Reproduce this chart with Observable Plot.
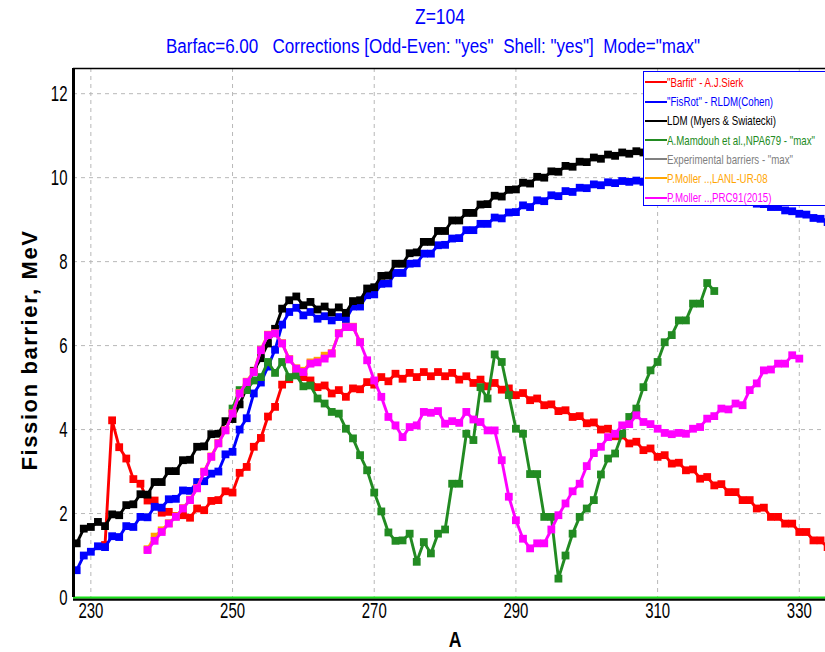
<!DOCTYPE html>
<html>
<head>
<meta charset="utf-8">
<script src="https://cdn.jsdelivr.net/npm/d3@7"></script>
<script src="https://cdn.jsdelivr.net/npm/@observablehq/plot@0.6"></script>
<style>
  body { margin: 0; background: #fff; }
  #wrap { position: relative; width: 825px; height: 652px; overflow: hidden; background: #fff;
          font-family: "Liberation Sans", Arial, sans-serif; }
  #chart { position: absolute; left: 0; top: 0; }
  .ttl { position: absolute; text-align: center; color: #0000ff; white-space: pre; transform: translateX(-50%); }
  .ttl span { display: inline-block; transform-origin: 50% 50%; }
  #t1 { left: 440px; top: 4px; font-size: 22px; }
  #t2 { left: 433px; top: 35px; font-size: 20px; }
  #ylab { position: absolute; left: 30px; top: 350px; transform: translate(-50%, -50%) rotate(-90deg);
          font-weight: bold; font-size: 22px; white-space: nowrap; letter-spacing: 1.6px; }
  #xlab { position: absolute; left: 455px; top: 640px; transform: translate(-50%, -50%) scaleX(0.8);
          font-weight: bold; font-size: 22px; }
  #legend { position: absolute; left: 643px; top: 71px; width: 200px; height: 135px; background: #fff;
            border: 1.5px solid #0000ff; box-sizing: border-box; padding-top: 1px; font-size: 13.5px; }
  .row { height: 19.2px; line-height: 19.2px; white-space: nowrap; }
  .sw { display: inline-block; width: 22px; height: 2px; vertical-align: middle; margin: 0 0 0 1px; position: relative; top: -1px; }
  .lt { display: inline-block; transform-origin: 0 50%; }
</style>
</head>
<body>
<div id="wrap">
  <div id="chart"></div>
  <div class="ttl" id="t1"><span></span></div>
  <div class="ttl" id="t2"><span></span></div>
  <div id="ylab"></div>
  <div id="xlab"></div>
  <div id="legend"></div>
</div>
<script>
// Mass-number axis ticks and barrier-height ticks
const xTicks = [230, 250, 270, 290, 310, 330];
const yTicks = [0, 2, 4, 6, 8, 10, 12];

// "Barfit" - A.J.Sierk, A = 232..334
const sierkStart = 232;
const sierkBarrier = [
  1.25, 4.22, 3.58, 3.31, 2.82, 2.71, 2.31, 2.31, 2.02, 2.04,
  1.94, 1.96, 1.90, 2.12, 2.08, 2.30, 2.32, 2.53, 2.50, 2.97,
  3.11, 3.59, 3.80, 4.31, 4.54, 5.07, 5.20, 5.41, 5.25, 5.17,
  5.01, 5.05, 4.86, 4.94, 4.78, 4.98, 4.96, 5.13, 5.07, 5.25,
  5.15, 5.33, 5.21, 5.35, 5.25, 5.37, 5.27, 5.37, 5.27, 5.35,
  5.19, 5.27, 5.11, 5.19, 5.03, 5.11, 4.95, 4.98, 4.82, 4.87,
  4.70, 4.74, 4.58, 4.60, 4.44, 4.46, 4.30, 4.32, 4.15, 4.17,
  4.00, 4.02, 3.84, 3.86, 3.67, 3.71, 3.51, 3.55, 3.35, 3.39,
  3.19, 3.21, 3.03, 3.05, 2.83, 2.87, 2.67, 2.70, 2.51, 2.51,
  2.32, 2.32, 2.12, 2.14, 1.92, 1.92, 1.76, 1.76, 1.56, 1.56,
  1.36, 1.36, 1.20
];

// "FisRot" - RLDM (Cohen), A = 228..334
const cohenStart = 228;
const cohenBarrier = [
  0.65, 1.00, 1.09, 1.22, 1.20, 1.46, 1.44, 1.70, 1.68, 1.92,
  1.91, 2.16, 2.14, 2.34, 2.35, 2.55, 2.54, 2.75, 2.77, 2.95,
  3.00, 3.41, 3.47, 4.00, 4.27, 4.86, 5.12, 5.50, 5.90, 6.50,
  6.80, 6.90, 6.72, 6.80, 6.64, 6.70, 6.60, 6.68, 6.62, 6.93,
  6.93, 7.20, 7.22, 7.47, 7.48, 7.73, 7.73, 7.95, 7.96, 8.19,
  8.19, 8.39, 8.40, 8.55, 8.56, 8.75, 8.75, 8.90, 8.90, 9.05,
  9.03, 9.17, 9.18, 9.34, 9.30, 9.46, 9.44, 9.58, 9.56, 9.68,
  9.66, 9.76, 9.75, 9.84, 9.82, 9.89, 9.87, 9.92, 9.90, 9.93,
  9.90, 9.90, 9.86, 9.85, 9.80, 9.78, 9.74, 9.72, 9.66, 9.64,
  9.60, 9.58, 9.52, 9.50, 9.46, 9.44, 9.38, 9.37, 9.30, 9.30,
  9.22, 9.20, 9.14, 9.12, 9.04, 9.02, 8.94
];

// LDM (Myers & Swiatecki), A = 228..310
const ldmStart = 228;
const ldmBarrier = [
  1.29, 1.64, 1.68, 1.80, 1.70, 1.98, 1.96, 2.20, 2.22, 2.46,
  2.45, 2.75, 2.75, 3.01, 3.01, 3.27, 3.28, 3.59, 3.60, 3.89,
  3.90, 4.20, 4.25, 4.60, 5.00, 5.40, 5.70, 6.05, 6.40, 6.88,
  7.08, 7.17, 6.96, 7.04, 6.86, 6.93, 6.79, 6.91, 6.78, 7.06,
  7.08, 7.36, 7.39, 7.66, 7.67, 7.95, 7.95, 8.20, 8.22, 8.47,
  8.47, 8.73, 8.73, 8.98, 8.98, 9.16, 9.16, 9.36, 9.37, 9.57,
  9.55, 9.71, 9.72, 9.88, 9.86, 10.02, 10.00, 10.15, 10.14, 10.28,
  10.26, 10.38, 10.37, 10.48, 10.45, 10.55, 10.52, 10.60, 10.57, 10.63,
  10.60, 10.64, 10.60
];

// A.Mamdouh et al., NPA679 - "max", A = 250..318
const mamdouhStart = 250;
const mamdouhBarrier = [
  4.50, 4.94, 4.94, 5.17, 5.25, 5.61, 5.35, 5.61, 5.25, 5.29,
  5.03, 5.05, 4.74, 4.62, 4.42, 4.38, 4.02, 3.79, 3.39, 3.03,
  2.50, 2.05, 1.55, 1.35, 1.36, 1.52, 0.85, 1.32, 1.05, 1.52,
  1.62, 2.71, 2.71, 3.90, 3.75, 5.01, 4.74, 5.79, 5.61, 4.82,
  4.02, 3.90, 2.94, 2.94, 1.92, 1.92, 0.45, 1.00, 1.52, 1.92,
  2.12, 2.32, 2.93, 3.31, 3.43, 3.90, 4.30, 4.50, 5.01, 5.41,
  5.61, 6.08, 6.25, 6.60, 6.60, 7.00, 7.00, 7.49, 7.30
];

// P.Moller .., LANL-UR-08, A = 238..268
const lanlStart = 238;
const lanlBarrier = [
  1.15, 1.45, 1.60, 1.77, 1.93, 2.13, 2.33, 2.61, 3.00, 3.36,
  3.68, 3.99, 4.39, 4.87, 5.14, 5.38, 5.90, 6.26, 6.30, 6.06,
  5.68, 5.46, 5.40, 5.60, 5.64, 5.76, 5.82, 6.30, 6.45, 6.45,
  6.09
];

// P.Moller .., PRC91(2015), A = 238..330
const prcStart = 238;
const prcBarrier = [
  1.13, 1.35, 1.56, 1.76, 1.92, 2.12, 2.32, 2.60, 2.99, 3.35,
  3.67, 3.98, 4.38, 4.86, 5.13, 5.37, 5.89, 6.25, 6.29, 6.05,
  5.67, 5.45, 5.37, 5.57, 5.60, 5.69, 5.81, 6.29, 6.44, 6.44,
  6.08, 5.65, 5.17, 4.78, 4.30, 4.10, 3.82, 4.06, 4.10, 4.42,
  4.40, 4.44, 4.14, 4.20, 4.16, 4.42, 4.24, 4.18, 3.98, 3.98,
  3.27, 2.40, 1.84, 1.40, 1.17, 1.29, 1.29, 1.62, 1.96, 2.24,
  2.53, 2.71, 3.13, 3.44, 3.59, 3.82, 3.90, 4.10, 4.13, 4.34,
  4.18, 4.13, 4.02, 3.92, 3.89, 3.92, 3.90, 4.02, 4.06, 4.26,
  4.32, 4.50, 4.48, 4.62, 4.58, 4.94, 5.10, 5.41, 5.43, 5.57,
  5.57, 5.77, 5.69
];

const seriesNames = [
  '"Barfit" - A.J.Sierk',
  '"FisRot" - RLDM(Cohen)',
  'LDM (Myers & Swiatecki)',
  'A.Mamdouh et al.,NPA679 - "max"',
  'Experimental barriers - "max"',
  'P.Moller ..,LANL-UR-08',
  'P.Moller ..,PRC91(2015)'
];
const seriesColors = ["#ff0000", "#0000ff", "#000000", "#228b22", "#808080", "#ffa500", "#ff00ff"];

const titleText = "Z=104";
const subtitleText = 'Barfac=6.00   Corrections [Odd-Even: "yes"  Shell: "yes"]  Mode="max"';
const yLabel = "Fission barrier, MeV";
const xLabel = "A";

// Turn a start mass number plus barrier list into {A, B} rows
const rows = (start, vals) => vals.map((B, i) => ({A: start + i, B}));

const series = [
  {rows: rows(sierkStart, sierkBarrier), color: seriesColors[0]},
  {rows: rows(cohenStart, cohenBarrier), color: seriesColors[1]},
  {rows: rows(ldmStart, ldmBarrier), color: seriesColors[2]},
  {rows: rows(mamdouhStart, mamdouhBarrier), color: seriesColors[3]},
  {rows: rows(lanlStart, lanlBarrier), color: seriesColors[5]},
  {rows: rows(prcStart, prcBarrier), color: seriesColors[6]}
];

const xDomain = [227.55, 333.7];
const yDomain = [0, 12.6];

const dataMarks = series.flatMap(s => [
  Plot.line(s.rows, {x: "A", y: "B", stroke: s.color, strokeWidth: 2.9, clip: true}),
  Plot.dot(s.rows, {x: "A", y: "B", fill: s.color, symbol: "square", r: 4.4, clip: true})
]);

const chart = Plot.plot({
  width: 825,
  height: 652,
  marginLeft: 73,
  marginRight: 0,
  marginTop: 68,
  marginBottom: 55,
  x: {domain: xDomain, label: null},
  y: {domain: yDomain, label: null},
  style: {fontFamily: '"Liberation Sans", Arial, sans-serif', fontSize: "22px", color: "black", background: "white", overflow: "visible"},
  marks: [
    Plot.gridX(xTicks, {stroke: "#b8b8b8", strokeOpacity: 1, strokeDasharray: "4,4"}),
    Plot.gridY(yTicks, {stroke: "#b8b8b8", strokeOpacity: 1, strokeDasharray: "4,4"}),
    Plot.axisX(xTicks, {tickSize: 0, tickPadding: 5, fontSize: 22, tickFormat: d => String(d)}),
    Plot.axisY(yTicks, {tickSize: 0, tickPadding: 6, fontSize: 22, tickFormat: d => String(d)}),
    Plot.ruleY([0], {stroke: "black", strokeWidth: 2.5, dy: 2}),
    Plot.ruleY([0], {stroke: "#19e019", strokeWidth: 2}),
    ...dataMarks,
    Plot.ruleX([xDomain[0]], {stroke: "black", strokeWidth: 3, y1: 0, y2: yDomain[1]}),
    Plot.ruleY([yDomain[1]], {stroke: "black", strokeWidth: 1.5})
  ]
});
document.getElementById("chart").appendChild(chart);

// Condensed look for the tick numbers: squeeze each label horizontally about its anchor
chart.querySelectorAll('g[aria-label$="tick label"] text').forEach(t => {
  const tr = t.getAttribute("transform") || "";
  t.setAttribute("transform", tr + " scale(0.68,1)");
});

// Titles and axis labels
const t1 = document.querySelector("#t1 span");
const t2 = document.querySelector("#t2 span");
t1.textContent = titleText;
t2.textContent = subtitleText;
document.getElementById("ylab").textContent = yLabel;
document.getElementById("xlab").textContent = xLabel;

// Squeeze a text to a given width
function squeezeTo(el, width) {
  const w = el.getBoundingClientRect().width;
  const k = width / w;
  el.style.transform = `scaleX(${k})`;
  return k;
}
squeezeTo(t1, 50);
squeezeTo(t2, 534);

// Legend box
const legend = document.getElementById("legend");
const labels = seriesNames.map((name, i) => {
  const row = document.createElement("div");
  row.className = "row";
  row.style.color = seriesColors[i];
  const sw = document.createElement("span");
  sw.className = "sw";
  sw.style.background = seriesColors[i];
  const lt = document.createElement("span");
  lt.className = "lt";
  lt.textContent = name;
  row.appendChild(sw);
  row.appendChild(lt);
  legend.appendChild(row);
  return lt;
});
const k = 148 / labels[3].getBoundingClientRect().width;
labels.forEach(l => { l.style.transform = `scaleX(${k})`; });
</script>
</body>
</html>
